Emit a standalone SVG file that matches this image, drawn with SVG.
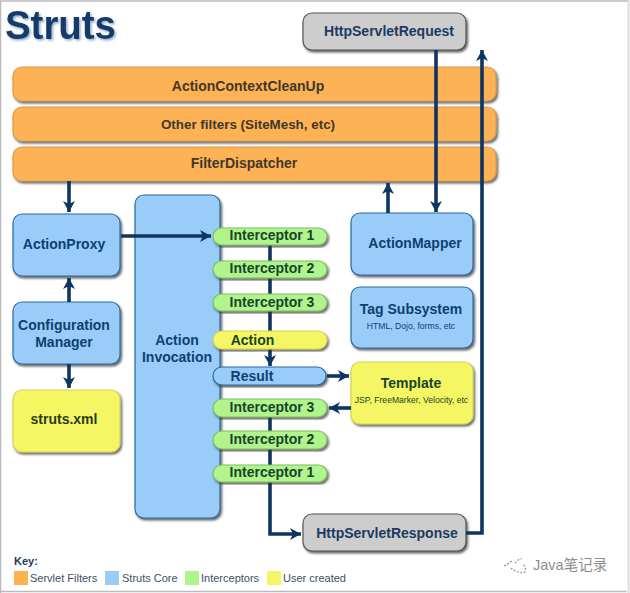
<svg xmlns="http://www.w3.org/2000/svg" width="630" height="593" viewBox="0 0 630 593">
<style>
text{font-family:"Liberation Sans",Arial,sans-serif;font-weight:700;text-anchor:middle}
.box{stroke-width:1.2;filter:url(#sh)}
.f{fill:#fdb254;stroke:#dc9a48}
.c{fill:#99ccf9;stroke:#2f6aa3}
.i{fill:#b1f38d;stroke:#7cc060}
.u{fill:#f5f663;stroke:#d4d458}
.g{fill:#cdcdcd;stroke:#555}
.tf{fill:#40382a;font-size:14px}
.tc{fill:#0f3f73;font-size:14px}
.ti{fill:#17452a;font-size:14px}
.tg{fill:#1b3a62;font-size:14px}
.sm{font-weight:400;font-size:8.6px}
.key{font-weight:400;font-size:11px;fill:#3c5068;text-anchor:start}
.line{fill:none;stroke:#0e3560;stroke-width:3.6}
</style>
<defs>
<filter id="sh" x="-10%" y="-15%" width="120%" height="130%"><feDropShadow dx="1.5" dy="2" stdDeviation="1" flood-color="#333" flood-opacity="0.75"/></filter>
<filter id="ts" x="-10%" y="-10%" width="125%" height="125%"><feDropShadow dx="1.5" dy="1.5" stdDeviation="0.8" flood-color="#7fa3c8" flood-opacity="0.9"/></filter>
<marker id="a" markerUnits="userSpaceOnUse" markerWidth="13" markerHeight="13" refX="11" refY="6" orient="auto"><path d="M0 0L11 6L0 12L3 6Z" fill="#0e3560"/></marker>
</defs>
<rect width="630" height="593" fill="#fff"/>
<path d="M0.5 593V1H629M0 591.5H626.5" fill="none" stroke="#bbb" stroke-width="1.6"/>
<path d="M628.5 0V593" stroke="#ddd" stroke-width="2" fill="none"/>
<text id="title" x="5" y="39" textLength="111" lengthAdjust="spacingAndGlyphs" style="font-size:41px;text-anchor:start;fill:#123a68;filter:url(#ts)">Struts</text>

<g id="ActionContextCleanUp"><rect class="box f" x="13" y="67" width="483" height="34" rx="9"/><text class="tf" x="248" y="91">ActionContextCleanUp</text></g>
<g id="OtherFilters"><rect class="box f" x="13" y="107" width="483" height="34" rx="9"/><text class="tf" x="248" y="129" style="font-size:13.4px">Other filters (SiteMesh, etc)</text></g>
<g id="FilterDispatcher"><rect class="box f" x="13" y="147" width="483" height="34" rx="9"/><text class="tf" x="244" y="168">FilterDispatcher</text></g>

<g id="HttpServletRequest"><rect class="box g" x="303" y="13" width="163" height="37" rx="9"/><text class="tg" x="389" y="36">HttpServletRequest</text></g>
<g id="HttpServletResponse"><rect class="box g" x="303" y="514" width="163" height="37" rx="9"/><text class="tg" x="387" y="538">HttpServletResponse</text></g>
<g id="ActionProxy"><rect class="box c" x="13" y="214" width="107" height="62" rx="9"/><text class="tc" x="64" y="249">ActionProxy</text></g>
<g id="ConfigurationManager"><rect class="box c" x="13" y="302" width="107" height="62" rx="9"/><text class="tc" x="64" y="330">Configuration</text><text class="tc" x="64" y="347">Manager</text></g>
<g id="strutsXml"><rect class="box u" x="13" y="390" width="107" height="62" rx="9"/><text class="tf" x="64" y="424" style="fill:#2c3a1e">struts.xml</text></g>
<g id="ActionInvocation"><rect class="box c" x="135" y="195" width="85" height="323" rx="9"/><text class="tc" x="177" y="345">Action</text><text class="tc" x="177" y="362">Invocation</text></g>
<g id="ActionMapper"><rect class="box c" x="351" y="213" width="122" height="62" rx="9"/><text class="tc" x="415" y="248">ActionMapper</text></g>
<g id="TagSubsystem"><rect class="box c" x="351" y="287" width="122" height="61" rx="9"/><text class="tc" x="411" y="314">Tag Subsystem</text><text class="tc sm" x="411" y="329">HTML, Dojo, forms, etc</text></g>
<g id="Template"><rect class="box u" x="351" y="362" width="122" height="62" rx="9"/><text class="ti" x="411" y="388">Template</text><text class="ti sm" x="411.500" y="403">JSP, FreeMarker, Velocity, etc</text></g>

<g id="connectors">
<path class="line" d="M69 181V212" marker-end="url(#a)"/>
<path class="line" d="M69 302V278" marker-end="url(#a)"/>
<path class="line" d="M69 364V388" marker-end="url(#a)"/>
<path class="line" d="M121 236H211" marker-end="url(#a)"/>
<path class="line" d="M436 50V212" marker-end="url(#a)"/>
<path class="line" d="M388 213V183" marker-end="url(#a)"/>
<path class="line" d="M270 245V366" marker-end="url(#a)"/>
<path class="line" d="M270 417V465M270 482V534H301" marker-end="url(#a)"/>
<path class="line" d="M327 376H349" marker-end="url(#a)"/>
<path class="line" d="M351 408H329" marker-end="url(#a)"/>
<path class="line" d="M466 533H482V50" marker-end="url(#a)"/>
</g>

<g id="Interceptor1a"><rect class="box i" x="213" y="228" width="114" height="17" rx="8.5"/><text class="ti" x="272" y="240">Interceptor 1</text></g>
<g id="Interceptor2a"><rect class="box i" x="213" y="261" width="114" height="17" rx="8.5"/><text class="ti" x="272" y="273">Interceptor 2</text></g>
<g id="Interceptor3a"><rect class="box i" x="213" y="294" width="114" height="17" rx="8.5"/><text class="ti" x="272" y="307">Interceptor 3</text></g>
<g id="Action"><rect class="box u" x="213" y="331" width="114" height="18" rx="9"/><text class="ti" x="252.500" y="345">Action</text></g>
<g id="Result"><rect class="box c" x="213" y="367" width="113" height="18" rx="9"/><text class="tc" x="252" y="381">Result</text></g>
<g id="Interceptor3b"><rect class="box i" x="213" y="399" width="114" height="18" rx="9"/><text class="ti" x="272" y="412">Interceptor 3</text></g>
<g id="Interceptor2b"><rect class="box i" x="213" y="431" width="114" height="18" rx="9"/><text class="ti" x="272" y="444">Interceptor 2</text></g>
<g id="Interceptor1b"><rect class="box i" x="213" y="465" width="114" height="17" rx="8.5"/><text class="ti" x="272" y="477">Interceptor 1</text></g>

<g id="key">
<text x="14" y="565" style="font-size:11px;fill:#243a55;text-anchor:start">Key:</text>
<rect x="14" y="571" width="14" height="14" fill="#fdb254"/><text class="key" x="30" y="582">Servlet Filters</text>
<rect x="105" y="571" width="14" height="14" fill="#99ccf9"/><text class="key" x="122" y="582">Struts Core</text>
<rect x="185" y="571" width="14" height="14" fill="#b1f38d"/><text class="key" x="201" y="582">Interceptors</text>
<rect x="267" y="571" width="14" height="14" fill="#f5f663"/><text class="key" x="283" y="582">User created</text>
</g>
<g id="watermark">
<path d="M504 566C509 564 511 561 513 560M511 568C514 571 520 574 525 572C526 569 525 566 523 564M515 563C517 561 520 558 522 559" fill="none" stroke="#9a9a9a" stroke-width="1.3" stroke-dasharray="2 1.5"/>
<text x="533" y="570" style="font-weight:400;font-size:14.5px;fill:#8c8c8c;text-anchor:start;font-family:'Liberation Sans','Noto Sans CJK SC',sans-serif">Java笔记录</text>
</g>
</svg>
